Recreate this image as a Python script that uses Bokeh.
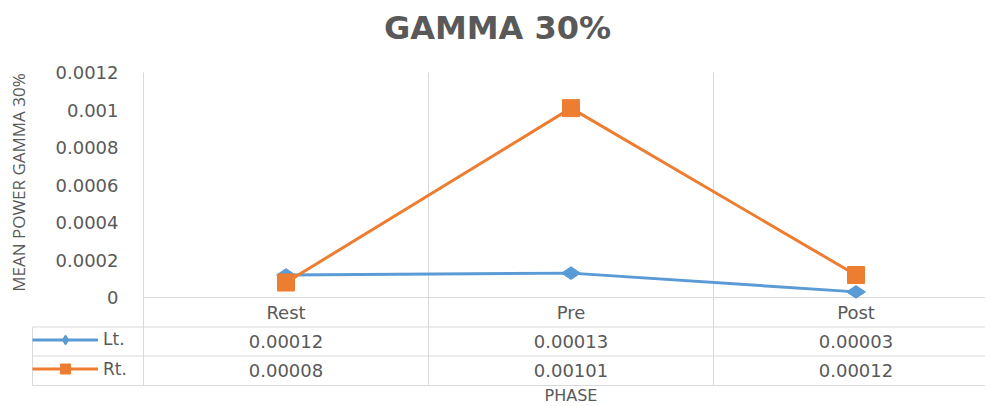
import math
from bokeh.plotting import figure
from bokeh.models import (ColumnDataSource, FixedTicker, Legend, LegendItem, Label)
from bokeh.core.properties import value
from bokeh.embed import file_html
from bokeh.resources import INLINE

# ---- data ----
title_text = "GAMMA 30%"
phases = ["Rest", "Pre", "Post"]
lt_values = [0.00012, 0.00013, 0.00003]
rt_values = [0.00008, 0.00101, 0.00012]
lt_labels = ["0.00012", "0.00013", "0.00003"]
rt_labels = ["0.00008", "0.00101", "0.00012"]
y_ticks = [0, 0.0002, 0.0004, 0.0006, 0.0008, 0.001, 0.0012]
y_tick_labels = ["0", "0.0002", "0.0004", "0.0006", "0.0008", "0.001", "0.0012"]

GREY_TXT = "#595959"
GRID = "#d9d9d9"
BLUE = "#5B9BD5"
ORANGE = "#ED7D31"
FONT = "DejaVu Sans"

# ---- layout geometry (pixels -> data units) ----
W, H = 985, 406
TOP = 72                  # pixel of the 0.0012 level
ZERO_PX = 297             # y pixel of 0
PLOT_LEFT = 143           # x pixel of first category boundary
CAT_W = 285               # pixels per category
Y_MAX = 0.0012
YPX = Y_MAX / (ZERO_PX - TOP)   # data units per pixel

def ydat(px):
    return (ZERO_PX - px) * YPX

def xdat(px):
    return (px - PLOT_LEFT) / CAT_W

row_px = [297, 326.5, 355.5, 385]
row_edges = [ydat(v) for v in row_px]
row_centers = [(row_edges[i] + row_edges[i + 1]) / 2 for i in range(3)]
table_left = xdat(32)

xs = [i + 0.5 for i in range(len(phases))]

p = figure(width=W, height=H, output_backend="svg", toolbar_location=None,
           x_range=(xdat(0), xdat(W)), y_range=(ydat(H), ydat(0)),
           x_axis_location=None,
           min_border_left=0, min_border_right=0, min_border_top=0,
           min_border_bottom=0)
p.outline_line_color = None
p.background_fill_color = "white"
p.grid.visible = False

# y axis: labels drawn to the right of the (hidden) axis line at the frame edge
p.yaxis.ticker = FixedTicker(ticks=y_ticks)
p.yaxis.major_label_overrides = {t: l for t, l in zip(y_ticks, y_tick_labels)}
p.yaxis.major_tick_line_color = None
p.yaxis.major_tick_out = 0
p.yaxis.major_tick_in = 0
p.yaxis.minor_tick_line_color = None
p.yaxis.axis_line_color = None
p.yaxis.major_label_text_font = FONT
p.yaxis.major_label_text_font_size = "18px"
p.yaxis.major_label_text_color = GREY_TXT
p.yaxis.major_label_standoff = -118

# category boundary lines (vertical)
bx = [0, 1, 2, 3]
p.segment(x0=bx, y0=[row_edges[-1]] * 4, x1=bx, y1=[Y_MAX] * 4,
          line_color=GRID, line_width=1)
# left border of the data table
p.segment(x0=[table_left], y0=[row_edges[1]], x1=[table_left], y1=[row_edges[3]],
          line_color=GRID, line_width=1)
# horizontal table lines
p.segment(x0=[0] + [table_left] * 3, y0=row_edges, x1=[3] * 4, y1=row_edges,
          line_color=GRID, line_width=1)

# data lines
src_lt = ColumnDataSource(dict(x=xs, y=lt_values))
src_rt = ColumnDataSource(dict(x=xs, y=rt_values))
l_lt = p.line("x", "y", source=src_lt, line_color=BLUE, line_width=3)
m_lt = p.scatter("x", "y", source=src_lt, marker="diamond", size=19,
                 angle=math.pi / 2, fill_color=BLUE, line_color=BLUE)
l_rt = p.line("x", "y", source=src_rt, line_color=ORANGE, line_width=3)
m_rt = p.scatter("x", "y", source=src_rt, marker="square", size=17,
                 fill_color=ORANGE, line_color=ORANGE)

# table texts
tbl = ColumnDataSource(dict(
    x=xs * 3,
    y=[row_centers[0]] * 3 + [row_centers[1]] * 3 + [row_centers[2]] * 3,
    t=phases + lt_labels + rt_labels,
))
p.text("x", "y", text="t", source=tbl, text_align="center", text_baseline="middle",
       text_font=value(FONT), text_font_size="18px", text_color=GREY_TXT)

# legend keys of the table
def make_legend(label, renderers, bottom):
    lg = Legend(items=[LegendItem(label=label, renderers=renderers)],
                location=(32, bottom), orientation="vertical",
                glyph_width=66, glyph_height=25, label_height=25, label_width=30,
                label_standoff=5, padding=2, margin=0, spacing=0,
                border_line_color=None, background_fill_alpha=0,
                label_text_font=FONT, label_text_font_size="17px",
                label_text_color=GREY_TXT)
    p.add_layout(lg, "center")

make_legend("Lt.", [l_lt, m_lt], H - 355.5 + 4)
make_legend("Rt.", [l_rt, m_rt], H - 385 + 4)

# chart title and axis titles
p.add_layout(Label(x=xdat(497), y=ydat(27), text=title_text,
                   text_align="center", text_baseline="middle",
                   text_font=FONT, text_font_size="32px", text_font_style="bold",
                   text_color=GREY_TXT))
p.add_layout(Label(x=xdat(18), y=ydat(182), text="MEAN POWER GAMMA 30%",
                   angle=math.pi / 2, angle_units="rad",
                   text_align="center", text_baseline="middle",
                   text_font="Open Sans", text_font_size="17px", text_color=GREY_TXT))
p.add_layout(Label(x=1.5, y=ydat(395), text="PHASE",
                   text_align="center", text_baseline="middle",
                   text_font=FONT, text_font_size="16px", text_color=GREY_TXT))

open("out.html", "w").write(file_html(p, INLINE))
